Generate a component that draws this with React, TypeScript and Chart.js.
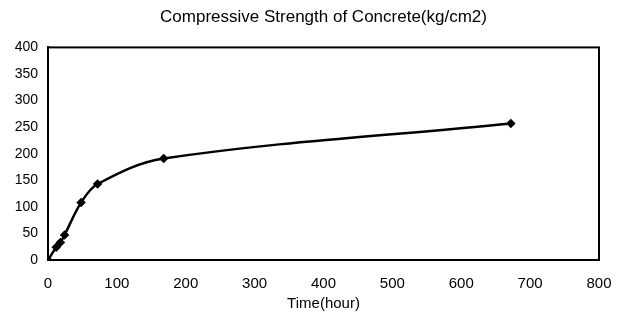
import React, { useEffect, useRef } from "react";
import { Chart, registerables } from "chart.js";

Chart.register(...registerables);

const hours = [0, 12, 18, 24, 48, 72, 168, 672];
const strength = [0, 24, 33, 47, 108, 143, 191, 257];
const titleText = "Compressive Strength of Concrete(kg/cm2)";
const xTitle = "Time(hour)";

const FONT = "'Liberation Sans', Arial, sans-serif";

const boxPlugin = {
  id: "boxPlugin",
  afterDraw(chart: any) {
    const { ctx, chartArea } = chart;
    ctx.save();
    ctx.strokeStyle = "#000";
    ctx.lineWidth = 2;
    ctx.strokeRect(chartArea.left, chartArea.top, chartArea.right - chartArea.left, chartArea.bottom - chartArea.top);
    ctx.restore();
  },
};

export default function App() {
  const ref = useRef<HTMLCanvasElement>(null);
  useEffect(() => {
    document.body.style.margin = "0";
    const data = hours.map((h, i) => ({ x: h, y: strength[i] }));
    const chart = new Chart(ref.current!, {
      type: "scatter",
      data: {
        datasets: [
          {
            data,
            showLine: true,
            borderColor: "#000",
            backgroundColor: "#000",
            borderWidth: 2.5,
            tension: 0.35,
            pointStyle: "rectRot",
            pointRadius: 3,
            pointHoverRadius: 3,
          },
        ],
      },
      options: {
        responsive: false,
        animation: false,
        layout: { padding: { left: 0, right: 30, top: 0, bottom: 0 } },
        plugins: {
          legend: { display: false },
          tooltip: { enabled: false },
          title: {
            display: true,
            fullSize: false,
            text: titleText,
            color: "#000",
            font: { family: FONT, size: 17, weight: "normal" },
            padding: { top: 7, bottom: 20 },
          },
        },
        scales: {
          x: {
            type: "linear",
            min: 0,
            max: 800,
            grid: { display: false },
            border: { display: true, color: "#000", width: 2 },
            ticks: {
              stepSize: 100,
              color: "#000",
              font: { family: FONT, size: 15 },
              padding: 7,
              maxRotation: 0,
            },
            title: {
              display: true,
              text: xTitle,
              color: "#000",
              font: { family: FONT, size: 15 },
              padding: { top: 0, bottom: 4 },
            },
            afterFit(scale: any) {
              scale.height = 57;
            },
          },
          y: {
            min: 0,
            max: 400,
            grid: { display: false },
            border: { display: true, color: "#000", width: 2 },
            ticks: {
              stepSize: 50,
              color: "#000",
              font: { family: FONT, size: 14 },
              padding: 2,
            },
            afterFit(scale: any) {
              scale.width = 48;
            },
          },
        },
      },
      plugins: [boxPlugin],
    });
    return () => chart.destroy();
  }, []);
  return <canvas ref={ref} width={629} height={317} />;
}
